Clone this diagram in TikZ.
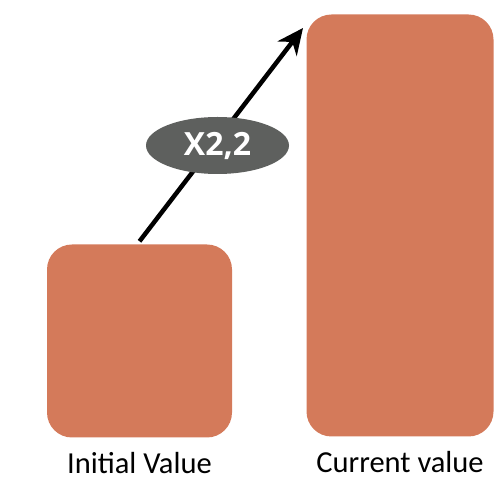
\documentclass[tikz,border=0pt]{standalone}
\usepackage{fontspec}
\setmainfont{Carlito}
\newfontfamily\badgefont{Open Sans}
\usetikzlibrary{positioning,arrows.meta,shapes.geometric}
\definecolor{terracotta}{RGB}{212,122,90}
\definecolor{slate}{RGB}{94,96,94}
\tikzset{
  bar/.style={fill=terracotta, rounded corners=25pt, inner sep=0pt, minimum width=#1},
  bar/.default={185pt},
  badge/.style={ellipse, fill=slate, text=white, inner sep=0pt, minimum width=143pt, minimum height=57pt, font=\badgefont\bfseries\fontsize{32}{36}\selectfont},
  lbl/.style={inner sep=0pt, anchor=north, text depth=0pt, font=\fontsize{30.5}{34}\selectfont},
  growth/.style={-{Stealth[length=26pt, width=24pt]}, line width=4.5pt, draw=black}
}

\begin{document}
\begin{tikzpicture}[x=1pt, y=-1pt]
  \useasboundingbox (0,0) rectangle (504,478);
  % the two values as bars
  \node[bar, minimum height=193pt] (initial) at (139.5,341) {};
  \node[bar=187pt, minimum height=422pt] (current) at (400,225.5) {};
  \node[lbl, below=14pt of initial] (initlbl) {Initial Value};
  \node[lbl, below=14pt of current] (curlbl) {Current value};
  % growth arrow and its factor
  \coordinate (tail) at ([yshift=3pt]initial.north);
  \coordinate (tip) at (303,28);
  \draw[growth] (tail) -- (tip);
  \node[badge] (factor) at (217.5,145.5) {X2,2};
\end{tikzpicture}
\end{document}
